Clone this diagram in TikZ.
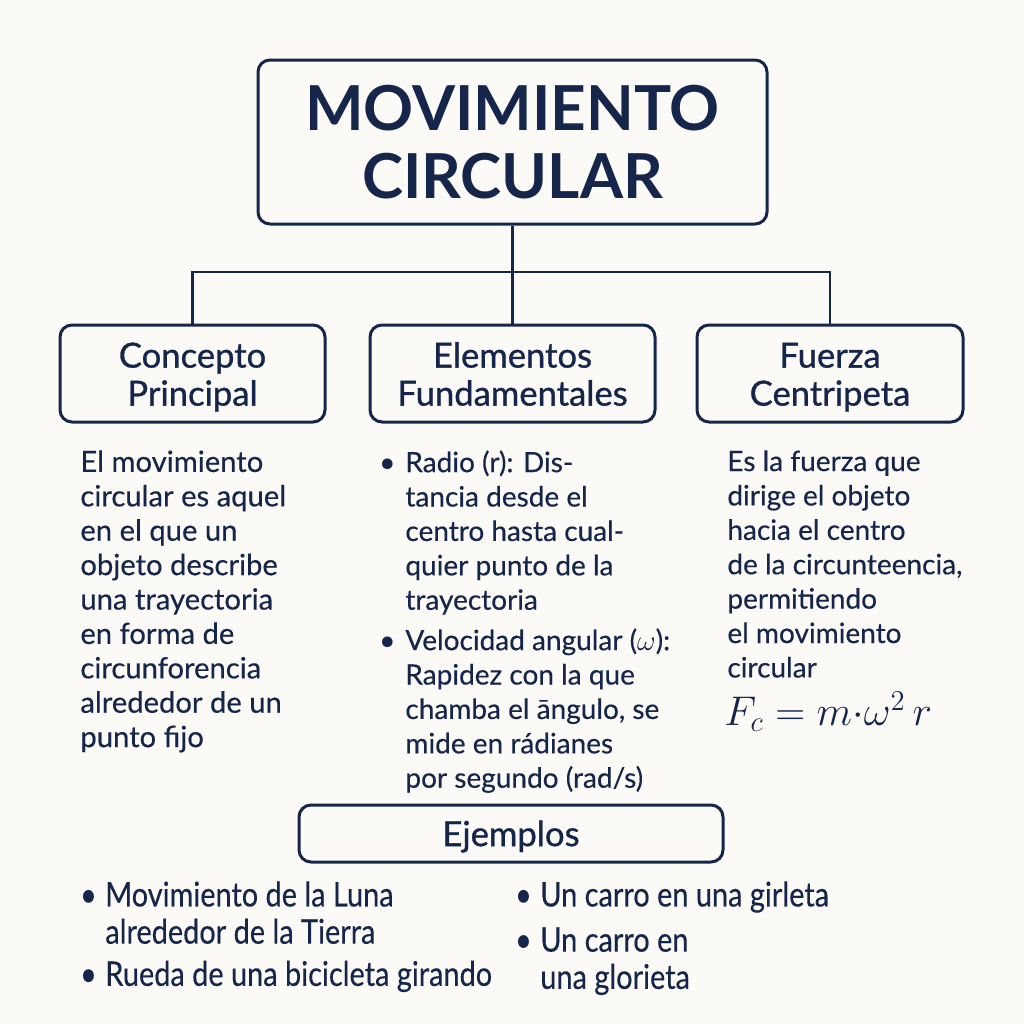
\documentclass[tikz,border=0pt]{standalone}
\usepackage{fontspec}
\setmainfont{Lato}
\newfontfamily\medfam[FakeBold=0.9]{Lato}
\newfontfamily\bodyfam[FakeBold=0.35]{Lato}
\definecolor{navy}{HTML}{16254A}
\definecolor{bgc}{HTML}{FBFAF6}
\newcommand{\twolines}[2]{\raisebox{-2.75pt}[\height][\depth]{\begin{tabular}{@{}c@{}}#1\\#2\end{tabular}}}
\begin{document}
\begin{tikzpicture}[x=0.5pt,y=-0.5pt,
  every node/.style={text=navy},
  boxnode/.style={draw=navy, line width=1.5pt, rounded corners=6pt, align=center, inner sep=0pt},
  headfont/.style={font=\medfam\fontsize{17.3}{19}\selectfont},
  bodytext/.style={anchor=north west, align=left, inner sep=0pt, font=\bodyfam\fontsize{14}{17.2}\selectfont},
  bottomtext/.style={anchor=north west, align=left, inner sep=0pt, xscale=0.85, transform shape, font=\bodyfam\fontsize{17}{18.6}\selectfont},
  link/.style={draw=navy, line width=1.2pt}]
\fill[bgc] (0,0) rectangle (1024,1024);
\useasboundingbox (0,0) rectangle (1024,1024);

\node[boxnode, minimum width=254.5pt, minimum height=82pt, font=\fontsize{31}{34}\selectfont\bfseries] (title) at (512.5,142) {MOVIMIENTO\\CIRCULAR};

\node[boxnode, headfont, minimum width=132.5pt, minimum height=48.5pt] (c1) at (192.5,373.5) {\twolines{Concepto}{Principal}};
\node[boxnode, headfont, minimum width=142.5pt, minimum height=48.5pt] (c2) at (512.5,373.5) {\twolines{Elementos}{Fundamentales}};
\node[boxnode, headfont, minimum width=133pt, minimum height=48.5pt] (c3) at (830,373.5) {\twolines{Fuerza}{Centripeta}};

\coordinate (j) at (512.5,272);
\draw[link] (title.south) -- (c2.north);
\draw[link] (c1.north) |- (j) -| (c3.north);

\node[bodytext, font=\bodyfam\fontsize{14.6}{17.2}\selectfont] (t1) at (80,450) {El movimiento\\circular es aquel\\en el que un\\objeto describe\\una trayectoria\\en forma de\\circunforencia\\alrededor de un\\punto fijo};

\node[bodytext] (t2) at (405,450) {\llap{\textbullet\hspace{5pt}}Radio (r): Dis-\\tancia desde el\\centro hasta cual-\\quier punto de la\\trayectoria\\[3pt]\llap{\textbullet\hspace{5pt}}Velocidad angular ($\omega$):\\Rapidez con la que\\chamba el āngulo, se\\mide en rádianes\\por segundo (rad/s)};

\node[bodytext] (t3) at (727,450) {Es la fuerza que\\dirige el objeto\\hacia el centro\\de la circunteencia,\\permitiendo\\el movimiento\\circular};
\node[anchor=west, inner sep=0pt, font=\fontsize{21}{24}\selectfont] (f) at (724,712) {$F_c = m{\cdot}\omega^2\, r$};

\node[boxnode, headfont, minimum width=212pt, minimum height=28.5pt] (ej) at (511,833.5) {\raisebox{-1.5pt}[\height][\depth]{Ejemplos}};

\node[bottomtext] (b1) at (105,881) {\llap{\textbullet\hspace{5pt}}Movimiento de la Luna\\alrededor de la Tierra\\[2.5pt]\llap{\textbullet\hspace{5pt}}Rueda de una bicicleta girando};
\node[bottomtext] (b2) at (540,881) {\llap{\textbullet\hspace{5pt}}Un carro en una girleta\\[4pt]\llap{\textbullet\hspace{5pt}}Un carro en\\una glorieta};
\end{tikzpicture}
\end{document}
